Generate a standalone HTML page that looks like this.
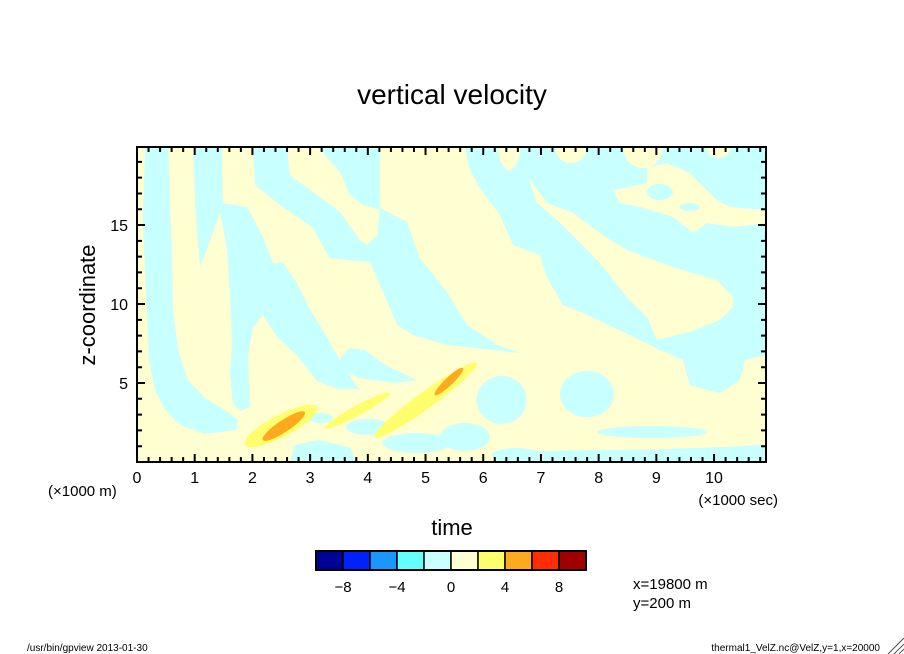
<!DOCTYPE html>
<html><head><meta charset="utf-8"><style>
html,body{margin:0;padding:0;background:#fff;}
svg{display:block;font-family:"Liberation Sans",sans-serif;}
</style></head><body>
<svg id="chart" width="904" height="654" viewBox="0 0 904 654" xmlns="http://www.w3.org/2000/svg">
<defs><clipPath id="clip"><rect x="137" y="147" width="629" height="315"/></clipPath></defs>
<text x="452" y="104" text-anchor="middle" font-size="28">vertical velocity</text>
<g id="field" clip-path="url(#clip)"></g>
<g id="axes"></g>
<text x="452" y="535" text-anchor="middle" font-size="22">time</text>
<text transform="translate(95,305) rotate(-90)" text-anchor="middle" font-size="22">z-coordinate</text>
<text x="48" y="496" font-size="15">(×1000 m)</text>
<text x="778" y="505" text-anchor="end" font-size="15">(×1000 sec)</text>
<g id="cbar"></g>
<text x="633" y="589" font-size="15">x=19800 m</text>
<text x="633" y="608" font-size="15">y=200 m</text>
<text x="27" y="651" font-size="10">/usr/bin/gpview  2013-01-30</text>
<text x="880" y="651" text-anchor="end" font-size="10">thermal1_VelZ.nc@VelZ,y=1,x=20000</text>
<g stroke="#555" stroke-width="1">
<line x1="888" y1="654" x2="904" y2="638"/><line x1="894" y1="654" x2="904" y2="644"/><line x1="899" y1="654" x2="904" y2="649"/>
</g>
</svg>
<script>
// axis domains
const tMin = 0, tMax = 10.9, zMin = 0, zMax = 19.94;
const xTicks = [0,1,2,3,4,5,6,7,8,9,10];
const yTicks = [5,10,15];
const cbarLevels = [-10,-8,-6,-4,-2,0,2,4,6,8,10];
const cbarLabels = [-8,-4,0,4,8];
const cbarColors = ["#000096","#0022ff","#1a96ff","#66ffff","#c8ffff","#ffffd2","#ffff6e","#ffaa1e","#ff2d00","#a00000"];
// cyan (w<0) contour regions in (time, z) data units
const negRegions = [
 [[0.14,19.94],[0.54,19.94],[0.57,16.58],[0.61,12.78],[0.62,9.81],[0.71,7.09],[0.88,5.19],[1.18,4.05],[1.52,3.29],[1.75,2.66],[1.72,2.03],[1.18,1.77],[0.75,2.34],[0.49,3.29],[0.31,4.56],[0.21,6.46],[0.16,10.25],[0.10,15.32]],
 [[0.97,19.94],[1.47,19.94],[1.49,16.39],[1.91,16.14],[2.18,14.24],[2.36,12.59],[2.53,12.66],[2.77,11.33],[3.00,9.62],[3.22,8.35],[3.48,6.65],[3.81,4.75],[3.90,4.62],[3.47,4.62],[3.12,5.13],[2.77,6.77],[2.43,7.91],[2.18,9.30],[2.01,8.54],[1.92,6.65],[1.96,3.48],[1.79,3.23],[1.66,3.73],[1.61,5.63],[1.65,7.72],[1.61,10.44],[1.56,13.42],[1.44,15.82],[1.27,14.05],[1.09,12.34],[1.01,16.14]],
 [[2.01,19.94],[2.60,19.94],[2.65,18.16],[3.05,17.09],[3.52,15.82],[3.86,14.05],[3.99,13.73],[4.16,14.37],[4.21,15.95],[3.92,16.27],[3.69,16.90],[3.52,18.35],[3.14,19.94],[4.21,19.94],[4.21,16.08],[4.68,15.19],[4.90,12.91],[5.37,10.76],[5.72,8.67],[6.24,7.41],[6.64,6.90],[5.37,7.41],[4.78,8.04],[4.51,8.67],[4.21,11.20],[4.04,12.66],[3.34,12.91],[3.05,14.81],[2.48,16.27],[2.05,17.53]],
 [[3.52,6.58],[3.69,7.22],[3.95,7.09],[4.30,6.14],[4.85,5.19],[4.47,5.00],[3.86,5.32],[3.55,5.82]],
 [[5.68,19.94],[5.77,18.48],[5.94,17.34],[6.29,15.63],[6.52,13.73],[6.98,13.10],[7.11,11.65],[7.38,9.94],[7.73,9.43],[8.25,8.54],[8.72,7.72],[9.06,7.09],[9.46,6.46],[9.58,4.87],[10.10,4.37],[10.45,5.19],[10.54,6.46],[10.90,6.77],[10.90,19.94]],
 [[2.65,0],[2.74,1.08],[3.17,1.39],[3.70,0.89],[3.79,0]],
 [[6.20,0],[6.40,0.55],[7.50,0.75],[9.00,0.80],[10.20,0.95],[10.90,1.10],[10.90,0]]
];
// yellow (w>0) regions drawn over cyan
const posRegions = [
 [[6.78,18.04],[7.11,16.39],[7.56,15.76],[8.02,14.49],[8.49,13.42],[9.29,12.34],[10.05,11.52],[10.33,10.44],[10.33,9.81],[10.10,8.99],[9.58,8.23],[9.01,7.72],[8.84,9.18],[8.49,10.44],[8.25,11.52],[8.02,12.59],[7.68,13.86],[7.28,15.32],[6.93,16.39]],
 [[8.25,17.22],[8.84,17.66],[8.84,18.67],[9.19,18.92],[9.58,18.29],[10.05,16.58],[10.28,16.14],[10.90,15.95],[10.90,15.13],[10.33,14.87],[9.88,15.13],[9.64,14.49],[9.29,15.51],[8.72,16.14],[8.37,16.39]]
];
// blob-like anomalies: [t, z, rxPx, ryPx]
const negBlobs = [[3.19,2.78,12,5],[4.00,2.22,22,8],[4.84,1.20,34,10],[6.32,3.93,25,24],[7.80,4.30,27,23],[5.68,1.58,25,14],[8.93,1.90,55,6],[6.58,0.44,25,7],[9.06,17.09,13,8],[9.58,16.14,10,4]];
const posNotches = [[6.45,18.48,11],[7.52,18.92,16],[8.77,18.6,20],[10.08,19.24,12]];
// plumes: [t1,z1,t2,z2,widthPx, level]
const plumes = [[1.87,1.08,3.12,3.48,22,2],[3.26,2.15,4.38,4.37,10,2],[4.12,1.58,5.89,6.27,17,2],[2.18,1.39,2.91,3.16,12,4],[5.16,4.24,5.65,5.95,8,4]];

const X0=137,X1=766,Y0=462,Y1=147;
function xs(t){return X0+(t-tMin)/(tMax-tMin)*(X1-X0);}
function ys(z){return Y0-(z-zMin)/(zMax-zMin)*(Y0-Y1);}
const NS="http://www.w3.org/2000/svg";
function mk(tag,attrs,parent){const e=document.createElementNS(NS,tag);for(const k in attrs)e.setAttribute(k,attrs[k]);parent.appendChild(e);return e;}
const field=document.getElementById('field');
const CY="#c8ffff",YL="#ffffd2",Y2="#ffff6e",OR="#ffaa1e";
let bg=mk('rect',{x:X0,y:Y1,width:X1-X0,height:Y0-Y1,fill:YL},field);


function poly(pts,fill,name){const p=mk('polygon',{points:pts.map(q=>xs(q[0]).toFixed(1)+','+ys(q[1]).toFixed(1)).join(' '),fill:fill},field);

}
negRegions.forEach((r,i)=>poly(r,CY,'negative-region-'+i));
posRegions.forEach((r,i)=>poly(r,YL,'positive-region-'+i));
negBlobs.forEach((b,i)=>{const e=mk('ellipse',{cx:xs(b[0]),cy:ys(b[1]),rx:b[2],ry:b[3],fill:CY},field);

});
posNotches.forEach((n,i)=>{const cx=xs(n[0]),by=ys(n[1]);const e=mk('ellipse',{cx:cx,cy:Y1,rx:n[2],ry:by-Y1,fill:YL},field);

});
plumes.forEach((p,i)=>{const x1=xs(p[0]),y1=ys(p[1]),x2=xs(p[2]),y2=ys(p[3]);
const cx=(x1+x2)/2,cy=(y1+y2)/2,len=Math.hypot(x2-x1,y2-y1),ang=Math.atan2(y2-y1,x2-x1)*180/Math.PI;
const e=mk('ellipse',{cx:cx,cy:cy,rx:len/2,ry:p[4]/2,fill:p[5]>=4?OR:Y2,transform:`rotate(${ang} ${cx} ${cy})`},field);

});

const axes=document.getElementById('axes');
let fr=mk('rect',{x:X0,y:Y1,width:X1-X0,height:Y0-Y1,fill:'none',stroke:'#000','stroke-width':2},axes);


let tk='';
for(let t=0;t<=tMax+1e-6;t=Math.round((t+0.2)*10)/10){const major=Math.abs(t-Math.round(t))<1e-6;const L=major?8:5;const x=xs(t);
tk+=`M${x},${Y0}v${-L}M${x},${Y1}v${L}`;}
for(let z=1;z<=19;z++){const L=z%5===0?8:5;const y=ys(z);tk+=`M${X0},${y}h${L}M${X1},${y}h${-L}`;}
let tp=mk('path',{d:tk,stroke:'#000','stroke-width':2,fill:'none'},axes);


xTicks.forEach(v=>{const t=mk('text',{x:xs(v),y:483,'text-anchor':'middle','font-size':16},axes);t.textContent=v;

});
yTicks.forEach(v=>{const t=mk('text',{x:128,y:ys(v)+6,'text-anchor':'end','font-size':16},axes);t.textContent=v;

});

const cb=document.getElementById('cbar');
const CX0=316,CX1=586,CY0=551,CY1=570;
function cx(v){return CX0+(v-cbarLevels[0])/(cbarLevels[cbarLevels.length-1]-cbarLevels[0])*(CX1-CX0);}
cbarColors.forEach((c,i)=>{const r=mk('rect',{x:cx(cbarLevels[i]),y:CY0,width:cx(cbarLevels[i+1])-cx(cbarLevels[i]),height:CY1-CY0,fill:c,stroke:'#000','stroke-width':1.5},cb);

});
let cbf=mk('rect',{x:CX0,y:CY0,width:CX1-CX0,height:CY1-CY0,fill:'none',stroke:'#000','stroke-width':2},cb);


cbarLabels.forEach(v=>{const t=mk('text',{x:cx(v),y:592,'text-anchor':'middle','font-size':15},cb);t.textContent=v<0?'−'+Math.abs(v):String(v);

});
</script>
</body></html>
